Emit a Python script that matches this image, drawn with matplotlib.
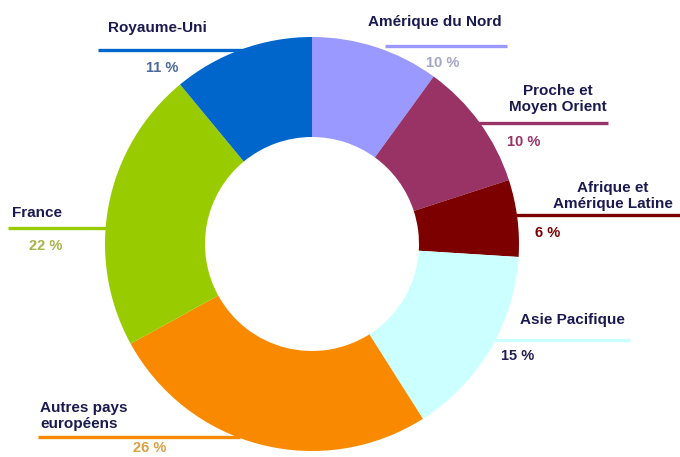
import matplotlib
matplotlib.use("Agg")
import matplotlib.pyplot as plt

labels = ["Amérique du Nord", "Proche et\nMoyen Orient", "Afrique et\nAmérique Latine",
          "Asie Pacifique", "Autres pays\neuropéens", "France", "Royaume-Uni"]
values = [10, 10, 6, 15, 26, 22, 11]
pct_labels = ["10 %", "10 %", "6 %", "15 %", "26 %", "22 %", "11 %"]
colors = ["#9999ff", "#993366", "#7d0000", "#ccffff", "#f98a00", "#99cc00", "#0066cc"]
pct_colors = ["#a4a4c8", "#993366", "#7d0000", "#1f2050", "#dba040", "#a4b445", "#4a6a9a"]

W, H = 680, 457
fig = plt.figure(figsize=(W / 100, H / 100), dpi=100)
ax = fig.add_axes([0, 0, 1, 1])

def Y(py):
    return H - py

cx, cy, R = 312, Y(244), 207
ax.pie(values, colors=colors, startangle=90, counterclock=False,
       center=(cx, cy), radius=R, frame=True,
       wedgeprops=dict(width=R - 107, linewidth=0, zorder=3))
ax.set_xlim(0, W)
ax.set_ylim(0, H)
ax.set_aspect("equal")
ax.axis("off")

# layout: (text x, text y, ha, line x0, line x1, line y, pct x, pct y)
layout = [
    (435, 22, "center", 385, 507, 46, 443, 63),
    (558, 99, "center", 470, 608, 123, 524, 142),
    (613, 196, "center", 505, 680, 215, 548, 233),
    (572, 320, "center", 490, 630, 340, 518, 356),
    (40, 416, "left", 38, 240, 437, 150, 448),
    (12, 213, "left", 8, 120, 228, 46, 246),
    (157, 28, "center", 98, 250, 50, 162, 68),
]

text_color = "#1a1a50"
font = ["Liberation Sans", "DejaVu Sans"]
for i, lab in enumerate(labels):
    tx, ty, ha, lx0, lx1, ly, px, py = layout[i]
    ax.text(tx, Y(ty), lab, ha=ha, va="center", fontsize=11, fontweight="bold",
            color=text_color, family=font, linespacing=1.1, zorder=5)
    ax.plot([lx0, lx1], [Y(ly), Y(ly)], color=colors[i], lw=2.4, zorder=2,
            solid_capstyle="butt")
    ax.text(px, Y(py), pct_labels[i], ha="center", va="center", fontsize=10.5,
            fontweight="bold", color=pct_colors[i], family=font, zorder=5)

fig.savefig("out.png", dpi=100, facecolor="white")
